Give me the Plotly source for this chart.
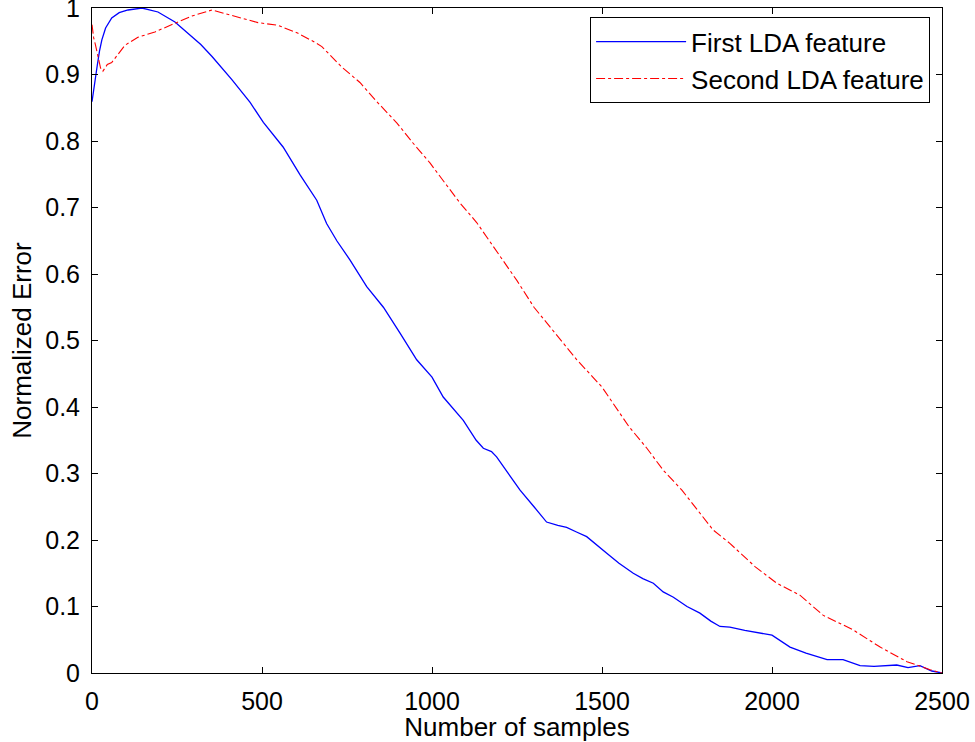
import plotly.graph_objects as go

# First LDA feature (blue, solid)
blue_x = [0, 8, 15, 22, 29, 40, 58, 80, 106, 147, 194, 244, 282, 320, 353, 412, 465, 504,
          562, 612, 661, 690, 720, 759, 808, 857, 906, 955, 1000, 1033, 1092, 1130, 1151,
          1175, 1190, 1225, 1259, 1300, 1337, 1370, 1396, 1425, 1455, 1514, 1550, 1592,
          1620, 1651, 1680, 1710, 1750, 1788, 1820, 1847, 1876, 1920, 1965, 2000, 2053,
          2100, 2162, 2209, 2259, 2300, 2367, 2400, 2435, 2470, 2500]
blue_y = [0.859, 0.89, 0.912, 0.935, 0.952, 0.97, 0.985, 0.993, 0.997, 1.0, 0.994, 0.979,
          0.962, 0.945, 0.927, 0.892, 0.858, 0.828, 0.791, 0.749, 0.711, 0.676, 0.65,
          0.621, 0.581, 0.55, 0.511, 0.471, 0.445, 0.415, 0.38, 0.35, 0.338, 0.333, 0.325,
          0.3, 0.275, 0.25, 0.227, 0.222, 0.219, 0.212, 0.205, 0.18, 0.165, 0.15, 0.142,
          0.135, 0.122, 0.114, 0.1, 0.09, 0.078, 0.07, 0.069, 0.064, 0.06, 0.057, 0.039,
          0.03, 0.02, 0.02, 0.011, 0.01, 0.012, 0.008, 0.011, 0.003, 0.0]

# Second LDA feature (red, dash-dot)
red_x = [0, 5, 10, 18, 25, 32, 45, 58, 75, 97, 135, 185, 244, 294, 353, 400, 441, 488, 547,
         606, 650, 676, 735, 788, 838, 897, 944, 994, 1032, 1082, 1132, 1190, 1250, 1300,
         1367, 1426, 1500, 1580, 1632, 1680, 1735, 1780, 1827, 1876, 1950, 2014, 2082,
         2150, 2238, 2318, 2397, 2465, 2500]
red_y = [0.975, 0.955, 0.945, 0.925, 0.91, 0.905, 0.915, 0.918, 0.93, 0.944, 0.956, 0.964,
         0.977, 0.988, 0.997, 0.99, 0.985, 0.978, 0.974, 0.962, 0.95, 0.942, 0.911, 0.888,
         0.859, 0.827, 0.797, 0.767, 0.741, 0.707, 0.677, 0.635, 0.59, 0.55, 0.508, 0.471,
         0.43, 0.37, 0.338, 0.305, 0.275, 0.245, 0.215, 0.195, 0.16, 0.135, 0.117, 0.087,
         0.065, 0.039, 0.017, 0.005, 0.0]

x_ticks = [0, 500, 1000, 1500, 2000, 2500]
y_ticks = [0, 0.1, 0.2, 0.3, 0.4, 0.5, 0.6, 0.7, 0.8, 0.9, 1]
y_labels = ["0", "0.1", "0.2", "0.3", "0.4", "0.5", "0.6", "0.7", "0.8", "0.9", "1"]

FONT = "Liberation Sans, Arial, sans-serif"

fig = go.Figure()
fig.add_trace(go.Scatter(x=blue_x, y=blue_y, mode="lines", name="First LDA feature",
                         line=dict(color="#0000ff", width=1.3)))
fig.add_trace(go.Scatter(x=red_x, y=red_y, mode="lines", name="Second LDA feature",
                         line=dict(color="#ff0000", width=1.1, dash="dashdot")))

axis_common = dict(showline=True, linecolor="black", linewidth=1, mirror="ticks",
                   ticks="inside", ticklen=6, tickcolor="black", tickwidth=1,
                   showgrid=False, zeroline=False, ticklabeloverflow="allow",
                   automargin=False,
                   tickfont=dict(family=FONT, size=25, color="black"))

fig.update_layout(
    width=975, height=742,
    margin=dict(l=92, r=33, t=8, b=69),
    paper_bgcolor="white", plot_bgcolor="white",
    font=dict(family=FONT, size=25, color="black"),
    xaxis=dict(range=[0, 2500], tickvals=x_ticks, ticktext=[str(v) for v in x_ticks],
               title=dict(text="Number of samples", font=dict(family=FONT, size=26), standoff=2),
               ticklabelstandoff=6, **axis_common),
    yaxis=dict(range=[0, 1], tickvals=y_ticks, ticktext=y_labels,
               title=dict(text="Normalized Error", font=dict(family=FONT, size=26), standoff=6),
               ticklabelstandoff=6, **axis_common),
    legend=dict(x=0.986, y=0.986, xanchor="right", yanchor="top",
                bgcolor="white", bordercolor="black", borderwidth=1,
                font=dict(family=FONT, size=26, color="black"),
                itemwidth=90, tracegroupgap=0),
    showlegend=True,
)

fig.write_html("out.html")
